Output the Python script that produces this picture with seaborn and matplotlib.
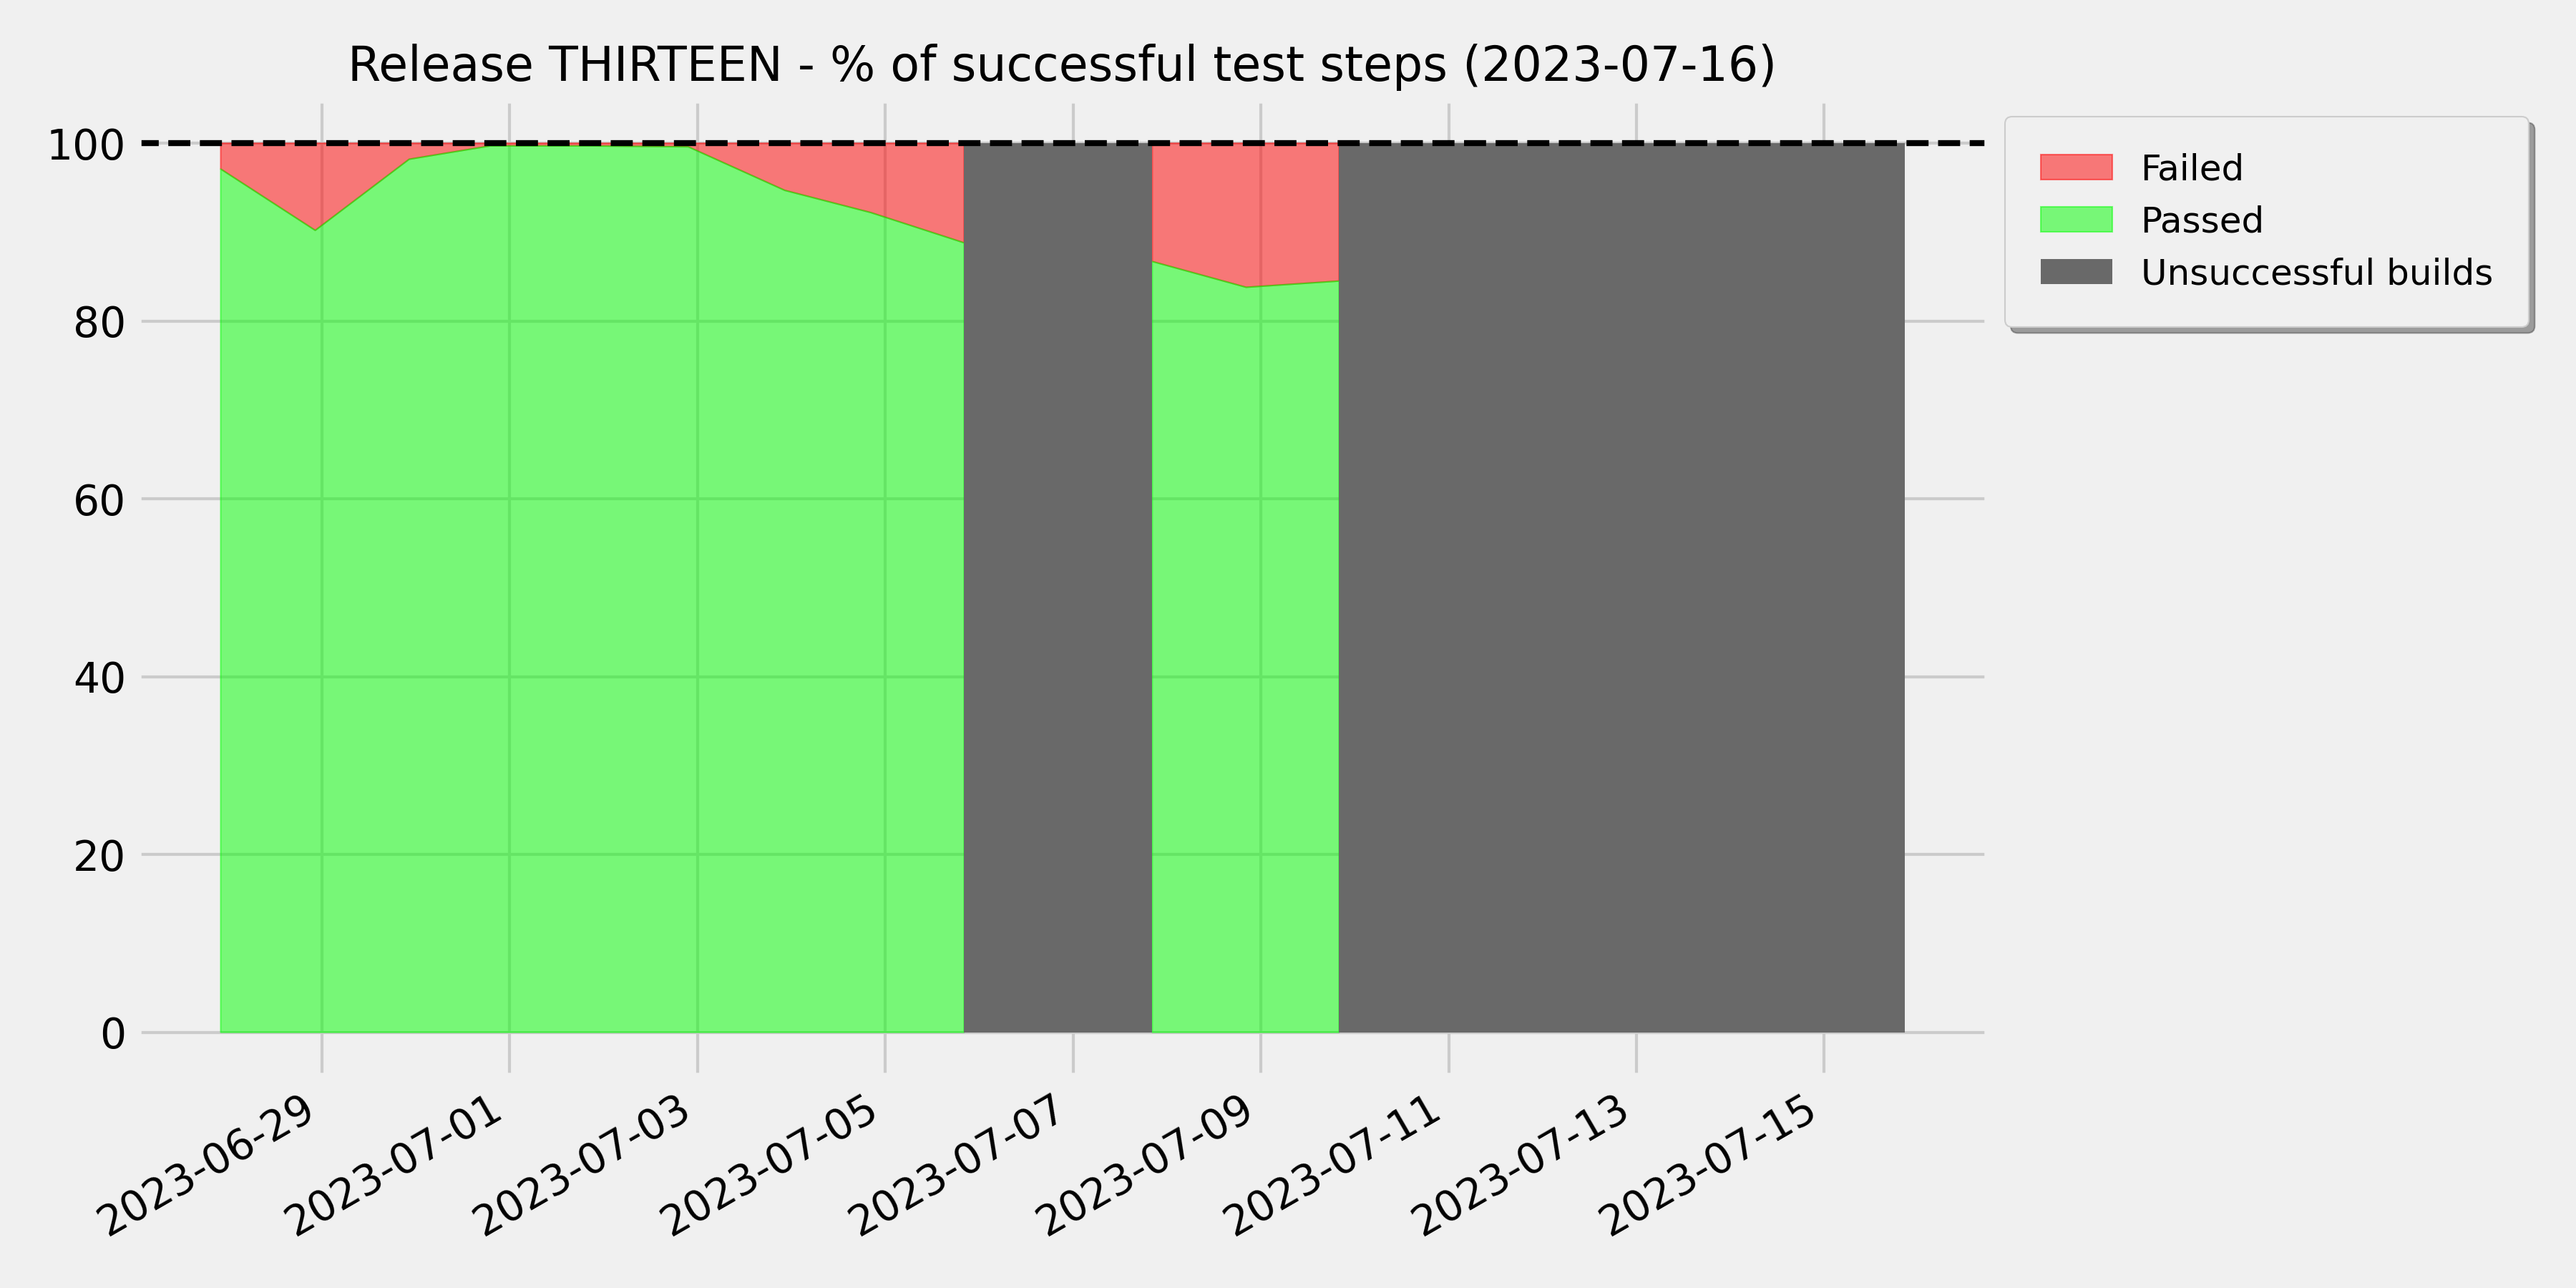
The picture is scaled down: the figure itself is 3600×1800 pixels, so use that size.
import numpy as np
import pandas as pd
import matplotlib
matplotlib.use("Agg")
import matplotlib.pyplot as plt
import matplotlib.dates as mdates
import seaborn as sns

# ---------------- data ----------------
build_times = [
    "2023-06-27 22:10", "2023-06-28 22:20", "2023-06-29 22:20", "2023-06-30 19:00",
    "2023-07-01 21:00", "2023-07-02 21:40", "2023-07-03 22:20", "2023-07-04 20:20",
    "2023-07-05 20:10", "2023-07-06 20:00", "2023-07-07 20:15", "2023-07-08 20:15",
    "2023-07-09 20:00", "2023-07-10 20:00", "2023-07-11 20:00", "2023-07-12 20:00",
    "2023-07-13 20:00", "2023-07-14 20:00", "2023-07-15 20:30",
]
build_ok = [True, True, True, True, True, True, True, True, True,
            False, True, True, True, False, False, False, False, False, False]
passed_pct = [97.1, 90.2, 98.2, 99.7, 99.7, 99.6, 94.7, 92.2, 88.8,
              np.nan, 86.7, 83.8, 84.5, np.nan, np.nan, np.nan, np.nan, np.nan, np.nan]
failed_pct = [2.9, 9.8, 1.8, 0.3, 0.3, 0.4, 5.3, 7.8, 11.2,
              np.nan, 13.3, 16.2, 15.5, np.nan, np.nan, np.nan, np.nan, np.nan, np.nan]

title = "Release THIRTEEN - % of successful test steps (2023-07-16)"
target_pct = 100

# ---------------- style ----------------
sns.set_theme(context="notebook", style="whitegrid")
plt.style.use("fivethirtyeight")
plt.rcParams.update({
    "font.family": ["DejaVu Sans"],
    "font.size": 14,
    "xtick.labelsize": 14,
    "ytick.labelsize": 14,
    "axes.titlesize": 16,
    "text.color": "black",
    "xtick.color": "black",
    "ytick.color": "black",
    "axes.labelcolor": "black",
})

df = pd.DataFrame({
    "time": pd.to_datetime(build_times),
    "ok": build_ok,
    "passed": passed_pct,
    "failed": failed_pct,
})

# spans of unsuccessful builds: from last good build to next good build (or last build)
starts, ends = [], []
i = 0
n = len(df)
while i < n:
    if not df["ok"].iloc[i]:
        j = i
        while j < n and not df["ok"].iloc[j]:
            j += 1
        s = df["time"].iloc[i - 1] if i > 0 else df["time"].iloc[i]
        e = df["time"].iloc[j] if j < n else df["time"].iloc[n - 1]
        starts.append(s)
        ends.append(e)
        i = j
    else:
        i += 1
span_df = pd.DataFrame({"start": starts, "end": ends})
span_df["days"] = (span_df["end"] - span_df["start"]).dt.total_seconds() / 86400.0

fig, ax = plt.subplots(figsize=(12, 6), dpi=300)

ax.fill_between(df["time"], df["passed"], df["passed"] + df["failed"],
                color="red", alpha=0.5, label="Failed")
ax.fill_between(df["time"], 0, df["passed"],
                color="lime", alpha=0.5, label="Passed")
ax.bar(x=mdates.date2num(span_df["start"]), height=target_pct,
       width=span_df["days"].to_numpy(), bottom=0,
       align="edge", color="dimgray", linewidth=0,
       label="Unsuccessful builds")
ax.axhline(target_pct, color="black", linestyle="--", linewidth=2)

ax.use_sticky_edges = False
ax.set_xmargin(0.05)
ax.set_ymargin(0.05)
ax.autoscale_view()
ax.set_title(title)
ax.xaxis.set_major_locator(mdates.DayLocator(bymonthday=range(1, 32, 2)))
ax.xaxis.set_major_formatter(mdates.DateFormatter("%Y-%m-%d"))
fig.autofmt_xdate()

ax.legend(loc="upper left", bbox_to_anchor=(0.999, 1.0), fontsize=12,
          shadow=True, fancybox=True, borderpad=1.0, frameon=True)

fig.subplots_adjust(left=0.053, right=0.772, bottom=0.164, top=0.9233)
fig.savefig("out.png", dpi=300, facecolor=fig.get_facecolor())
